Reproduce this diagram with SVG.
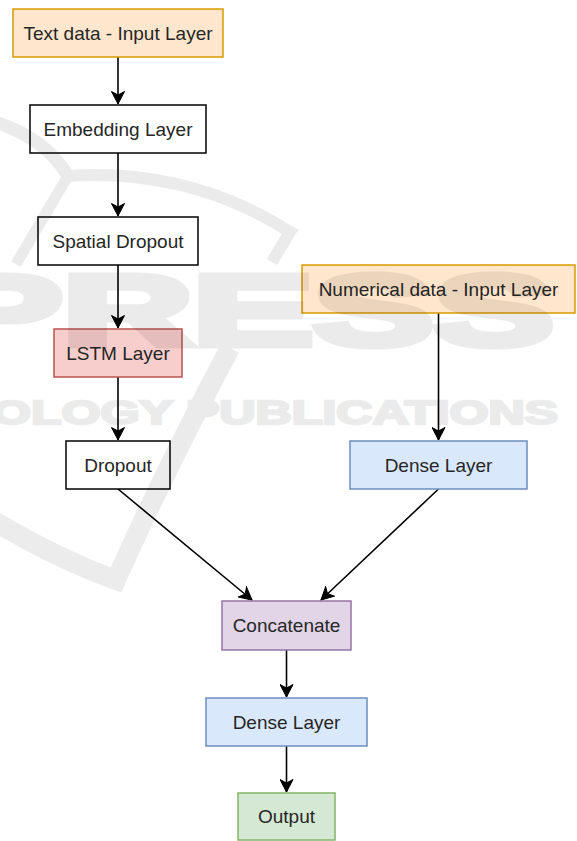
<svg xmlns="http://www.w3.org/2000/svg" width="577" height="841" viewBox="0 0 577 841">
  <defs>
    <marker id="arrow" viewBox="-13 -7 14 14" refX="0" refY="0" markerWidth="14" markerHeight="14" markerUnits="userSpaceOnUse" orient="auto">
      <path d="M0,0 L-12.5,-6.5 L-9,0 L-12.5,6.5 Z" fill="#000" stroke="#000" stroke-width="1" stroke-linejoin="miter"/>
    </marker>
  </defs>
  <style>
    .box { stroke-width: 1.5; }
    .plain { fill: #ffffff; stroke: #000000; }
    .orange { fill: #ffe6cc; stroke: #d79b00; }
    .red { fill: #f8cecc; stroke: #b85450; }
    .blue { fill: #dae8fc; stroke: #6c8ebf; }
    .purple { fill: #e1d5e7; stroke: #9673a6; }
    .green { fill: #d5e8d4; stroke: #82b366; }
    .label { font-family: "Liberation Sans", Arial, Helvetica, sans-serif; font-size: 19px; fill: #262626; text-anchor: middle; }
    .edge { fill: none; stroke: #000; stroke-width: 1.6; marker-end: url(#arrow); }
    .mark { fill: none; stroke: #000; }
    .marktext { font-family: "Liberation Sans", Arial, sans-serif; font-weight: bold; fill: #000; stroke: #000; stroke-linejoin: miter; }
  </style>

  <rect width="577" height="841" fill="#ffffff"/>

  <!-- connectors -->
  <g id="edges">
    <path class="edge" d="M118,57 L118,104"/>
    <path class="edge" d="M118,153 L118,216"/>
    <path class="edge" d="M118,265 L118,328"/>
    <path class="edge" d="M118,377 L118,440"/>
    <path class="edge" d="M438.5,313 L438.5,440"/>
    <path class="edge" d="M118,489 L252,600"/>
    <path class="edge" d="M438.5,489 L321,600"/>
    <path class="edge" d="M286.5,650 L286.5,697"/>
    <path class="edge" d="M286.5,746 L286.5,792"/>
  </g>

  <!-- nodes -->
  <g id="text-input">
    <rect class="box orange" x="13" y="9" width="210" height="48"/>
    <text class="label" x="118" y="39.8">Text data - Input Layer</text>
  </g>
  <g id="embedding">
    <rect class="box plain" x="30" y="105" width="176" height="48"/>
    <text class="label" x="118" y="135.8">Embedding Layer</text>
  </g>
  <g id="spatial-dropout">
    <rect class="box plain" x="38" y="217" width="160" height="48"/>
    <text class="label" x="118" y="247.8">Spatial Dropout</text>
  </g>
  <g id="lstm">
    <rect class="box red" x="54" y="329" width="128" height="48"/>
    <text class="label" x="118" y="359.8">LSTM Layer</text>
  </g>
  <g id="dropout">
    <rect class="box plain" x="66" y="441" width="104" height="48"/>
    <text class="label" x="118" y="471.8">Dropout</text>
  </g>
  <g id="numerical-input">
    <rect class="box orange" x="302" y="265" width="273" height="48"/>
    <text class="label" x="438.5" y="295.8">Numerical data - Input Layer</text>
  </g>
  <g id="dense-numerical">
    <rect class="box blue" x="350" y="441" width="177" height="48"/>
    <text class="label" x="438.5" y="471.8">Dense Layer</text>
  </g>
  <g id="concatenate">
    <rect class="box purple" x="222" y="601" width="129" height="49"/>
    <text class="label" x="286.5" y="632.3">Concatenate</text>
  </g>
  <g id="dense-merged">
    <rect class="box blue" x="206" y="698" width="161" height="48"/>
    <text class="label" x="286.5" y="728.8">Dense Layer</text>
  </g>
  <g id="output">
    <rect class="box green" x="238" y="793" width="97" height="47"/>
    <text class="label" x="286.5" y="823.3">Output</text>
  </g>

  <!-- faint publisher watermark laid over the drawing; the group opacity keeps overlaps even -->
  <g id="watermark" opacity="0.075">
    <path class="mark" stroke-width="13" d="M-5,122 Q45,138 68,176"/>
    <path class="mark" stroke-width="11" d="M68,176 L16,264"/>
    <path class="mark" stroke-width="12" d="M68,176 Q190,168 290,232 L272,262"/>
    <path class="mark" stroke-width="20" stroke-linejoin="miter" d="M-8,520 Q60,560 116,580 Q165,470 230,348"/>
    <text class="marktext" x="-58" y="345" font-size="100" stroke-width="7" textLength="612" lengthAdjust="spacingAndGlyphs">PRESS</text>
    <text class="marktext" x="-8" y="424" font-size="34" stroke-width="2.5" textLength="566" lengthAdjust="spacingAndGlyphs">OLOGY PUBLICATIONS</text>
  </g>
</svg>
